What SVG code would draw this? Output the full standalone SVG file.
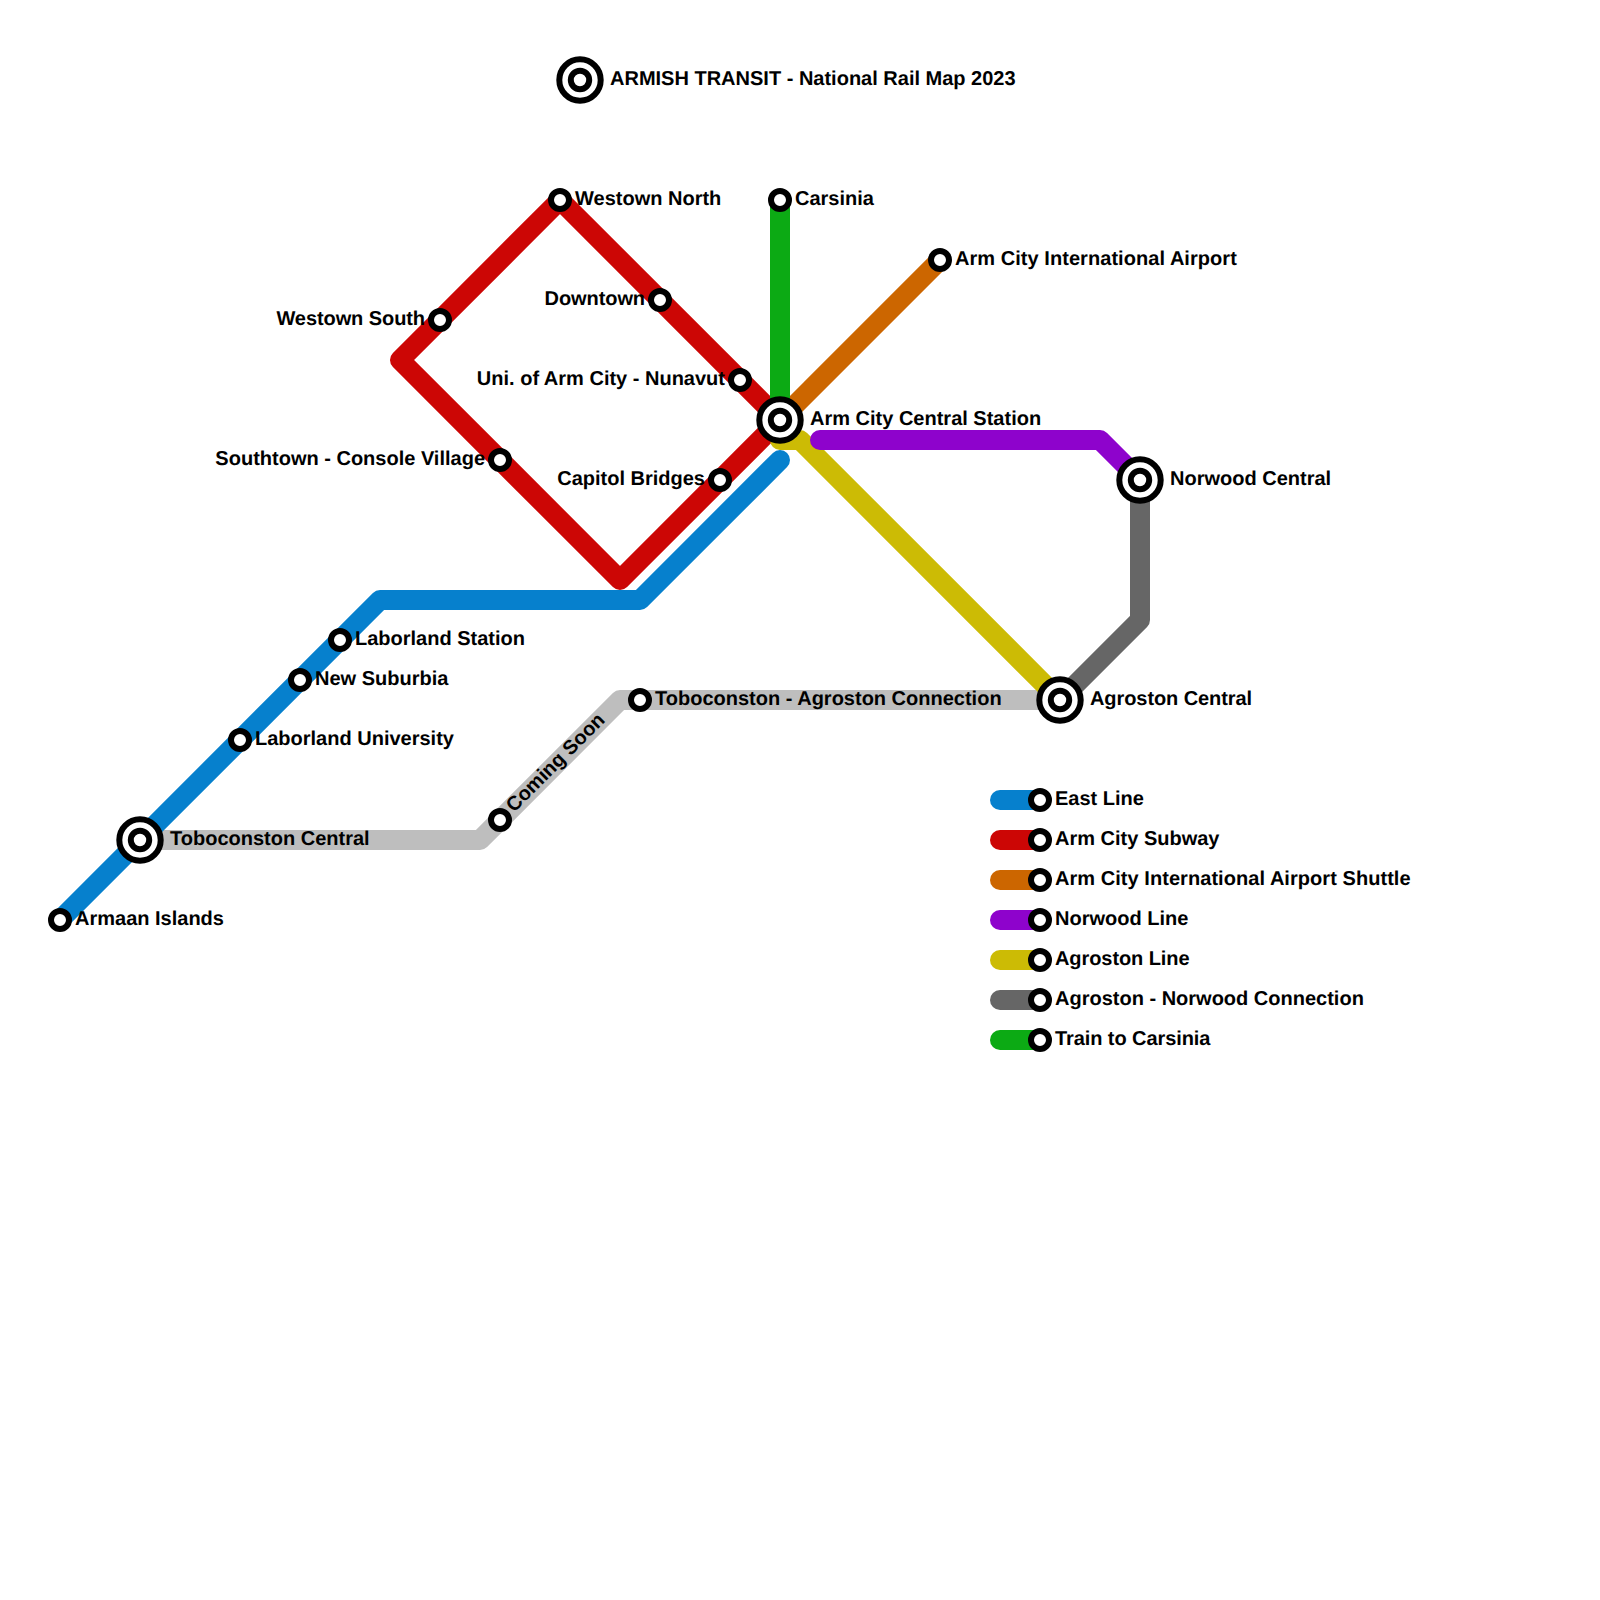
<svg xmlns="http://www.w3.org/2000/svg" width="1600" height="1600" viewBox="0 0 1600 1600">
<style>
text{font-family:"Liberation Sans",Arial,sans-serif;font-weight:bold;font-size:20px;fill:#000;text-rendering:geometricPrecision}
.e{text-anchor:end}
.wide{letter-spacing:.05px}
.tight{letter-spacing:-.08px}
.l{fill:none;stroke-width:20;stroke-linejoin:round;stroke-linecap:round}
.butt{stroke-linecap:butt}
.s{fill:#fff;stroke:#000;stroke-width:6}
.blue{stroke:#0680cd}.red{stroke:#cc0605}.orange{stroke:#cc6600}.purple{stroke:#8e03cc}.yellow{stroke:#ccbb05}.dark{stroke:#666}.green{stroke:#0caa14}.light{stroke:#bebebe}
</style>
<defs>
<g id="stn"><circle class="s" r="9"/></g>
<g id="hub"><circle class="s" r="20.7"/><circle class="s" r="9.2"/></g>
</defs>
<rect width="1600" height="1600" fill="#fff"/>
<g id="connectors">
<path class="l light butt" d="M140 840H480L620 700H1060"/>
<path class="l blue" d="M60 920L380 600H640L780 460"/>
<path class="l red butt" d="M780 420L560 200L400 360L620 580L780 420"/>
<path class="l orange butt" d="M780 420L940 260"/>
<path class="l yellow" d="M780 440H800L1060 700"/>
<path class="l purple" d="M820 440H1100L1140 480"/>
<path class="l dark butt" d="M1140 480V620L1060 700"/>
<path class="l green butt" d="M780 200V420"/>
<path class="l blue" d="M1000 800H1040"/>
<path class="l red" d="M1000 840H1040"/>
<path class="l orange" d="M1000 880H1040"/>
<path class="l purple" d="M1000 920H1040"/>
<path class="l yellow" d="M1000 960H1040"/>
<path class="l dark" d="M1000 1000H1040"/>
<path class="l green" d="M1000 1040H1040"/>
</g>
<g id="title"><use href="#hub" x="580" y="80"/><text x="610" y="85">ARMISH TRANSIT - National Rail Map 2023</text></g>
<g id="westown-north"><use href="#stn" x="560" y="200"/><text x="575" y="205">Westown North</text></g>
<g id="carsinia"><use href="#stn" x="780" y="200"/><text x="795" y="205">Carsinia</text></g>
<g id="airport"><use href="#stn" x="940" y="260"/><text class="wide" x="955" y="265">Arm City International Airport</text></g>
<g id="downtown"><use href="#stn" x="660" y="300"/><text class="e tight" x="645" y="305">Downtown</text></g>
<g id="westown-south"><use href="#stn" x="440" y="320"/><text class="e tight" x="425" y="325">Westown South</text></g>
<g id="uni"><use href="#stn" x="740" y="380"/><text class="e" x="725" y="385">Uni. of Arm City - Nunavut</text></g>
<g id="central"><use href="#hub" x="780" y="420"/><text x="810" y="425">Arm City Central Station</text></g>
<g id="southtown"><use href="#stn" x="500" y="460"/><text class="e" x="485" y="465">Southtown - Console Village</text></g>
<g id="capitol"><use href="#stn" x="720" y="480"/><text class="e" x="705" y="485">Capitol Bridges</text></g>
<g id="norwood"><use href="#hub" x="1140" y="480"/><text x="1170" y="485">Norwood Central</text></g>
<g id="laborland-station"><use href="#stn" x="340" y="640"/><text x="355" y="645">Laborland Station</text></g>
<g id="new-suburbia"><use href="#stn" x="300" y="680"/><text x="315" y="685">New Suburbia</text></g>
<g id="tob-agr"><use href="#stn" x="640" y="700"/><text x="655" y="705">Toboconston - Agroston Connection</text></g>
<g id="agroston"><use href="#hub" x="1060" y="700"/><text class="tight" x="1090" y="705">Agroston Central</text></g>
<g id="laborland-univ"><use href="#stn" x="240" y="740"/><text x="255" y="745">Laborland University</text></g>
<g id="coming-soon"><use href="#stn" x="500" y="820"/><text transform="translate(514 813) rotate(-45)">Coming Soon</text></g>
<g id="toboconston"><use href="#hub" x="140" y="840"/><text x="170" y="845">Toboconston Central</text></g>
<g id="armaan"><use href="#stn" x="60" y="920"/><text x="75" y="925">Armaan Islands</text></g>
<g id="legend-east"><use href="#stn" x="1040" y="800"/><text x="1055" y="805">East Line</text></g>
<g id="legend-subway"><use href="#stn" x="1040" y="840"/><text x="1055" y="845">Arm City Subway</text></g>
<g id="legend-shuttle"><use href="#stn" x="1040" y="880"/><text class="wide" x="1055" y="885">Arm City International Airport Shuttle</text></g>
<g id="legend-norwood"><use href="#stn" x="1040" y="920"/><text x="1055" y="925">Norwood Line</text></g>
<g id="legend-agroston"><use href="#stn" x="1040" y="960"/><text class="tight" x="1055" y="965">Agroston Line</text></g>
<g id="legend-connection"><use href="#stn" x="1040" y="1000"/><text x="1055" y="1005">Agroston - Norwood Connection</text></g>
<g id="legend-carsinia"><use href="#stn" x="1040" y="1040"/><text class="tight" x="1055" y="1045">Train to Carsinia</text></g>
</svg>
